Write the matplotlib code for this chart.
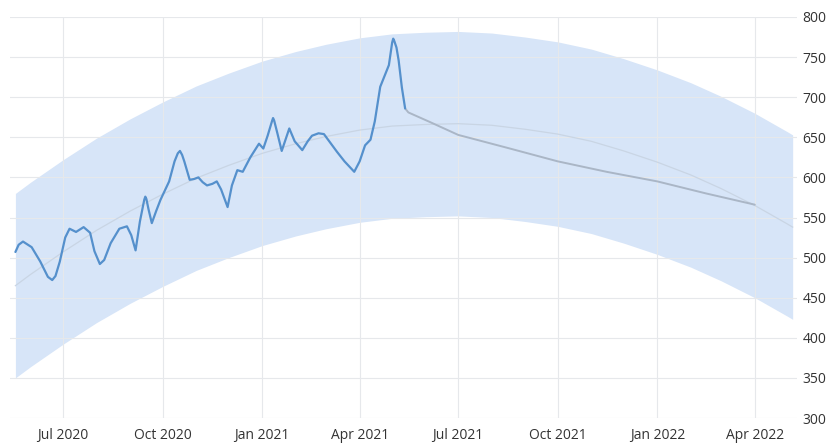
import matplotlib
matplotlib.use("Agg")
import matplotlib.pyplot as plt
import pandas as pd

# ---- data ----
hist_dates = ["2020-05-18", "2020-05-21", "2020-05-25", "2020-06-02", "2020-06-10", "2020-06-17",
              "2020-06-21", "2020-06-24", "2020-06-28", "2020-07-03", "2020-07-07", "2020-07-13",
              "2020-07-20", "2020-07-26", "2020-07-30", "2020-08-04", "2020-08-08", "2020-08-14",
              "2020-08-22", "2020-08-29", "2020-09-02", "2020-09-06", "2020-09-10", "2020-09-14",
              "2020-09-15", "2020-09-16", "2020-09-18", "2020-09-21", "2020-09-25", "2020-09-29",
              "2020-10-07", "2020-10-12", "2020-10-15", "2020-10-17", "2020-10-19", "2020-10-21",
              "2020-10-26", "2020-10-30", "2020-11-03", "2020-11-07",
              "2020-11-11", "2020-11-16", "2020-11-20", "2020-11-24", "2020-11-30", "2020-12-04",
              "2020-12-09", "2020-12-14", "2020-12-21", "2020-12-29", "2021-01-02", "2021-01-06",
              "2021-01-10", "2021-01-11", "2021-01-12", "2021-01-15", "2021-01-19", "2021-01-22",
              "2021-01-26", "2021-01-31",
              "2021-02-07", "2021-02-12", "2021-02-16", "2021-02-22", "2021-02-27", "2021-03-05",
              "2021-03-11", "2021-03-18", "2021-03-27", "2021-04-01", "2021-04-06", "2021-04-11",
              "2021-04-15", "2021-04-20", "2021-04-28", "2021-05-01", "2021-05-02", "2021-05-03",
              "2021-05-05", "2021-05-07", "2021-05-10", "2021-05-13"]
hist_values = [507, 516, 520, 513, 495, 476,
               472, 477, 495, 525, 536, 532,
               538, 531, 508, 492, 497, 518,
               536, 539, 528, 509, 545, 572,
               576, 573, 560, 543, 558, 572,
               595, 620, 630, 633, 628, 620,
               597, 598, 600, 594,
               590, 592, 595, 585, 563, 590,
               609, 607, 625, 642, 636, 652,
               670, 674, 671, 655, 633, 645,
               661, 645,
               634, 645, 652, 655, 654, 643,
               632, 620, 607, 620, 640, 647,
               670, 713, 740, 768, 773, 770,
               762, 746, 712, 686]

fc_dates = ["2021-05-13", "2021-05-16", "2021-06-05", "2021-07-01", "2021-08-15",
            "2021-10-01", "2021-11-15", "2022-01-01", "2022-02-15", "2022-04-01"]
fc_values = [686, 681, 669, 653, 637, 620, 607, 595, 580, 566]

band_dates = ["2020-05-18", "2020-06-01", "2020-07-01", "2020-08-01", "2020-09-01", "2020-10-01",
              "2020-11-01", "2020-12-01", "2021-01-01", "2021-02-01", "2021-03-01", "2021-04-01",
              "2021-05-01", "2021-06-01", "2021-07-01", "2021-08-01", "2021-09-01", "2021-10-01",
              "2021-11-01", "2021-12-01", "2022-01-01", "2022-02-01", "2022-03-01", "2022-04-01",
              "2022-05-01", "2022-05-06"]
band_mid = [465, 479, 507, 534, 558, 579, 599, 615, 630, 642, 651, 659,
            664, 666, 667, 665, 660, 654, 645, 633, 619, 603, 586, 565, 542, 538]
band_upper = [580, 594, 622, 649, 673, 694, 714, 730, 745, 757, 766, 774,
              779, 781, 782, 780, 775, 769, 760, 748, 734, 718, 701, 680, 657, 653]
band_lower = [350, 364, 392, 419, 443, 464, 484, 500, 515, 527, 536, 544,
              549, 551, 552, 550, 545, 539, 530, 518, 504, 488, 471, 450, 427, 423]

x_ticks = ["2020-07-01", "2020-10-01", "2021-01-01", "2021-04-01",
           "2021-07-01", "2021-10-01", "2022-01-01", "2022-04-01"]
x_tick_labels = ["Jul 2020", "Oct 2020", "Jan 2021", "Apr 2021",
                 "Jul 2021", "Oct 2021", "Jan 2022", "Apr 2022"]
y_ticks = [300, 350, 400, 450, 500, 550, 600, 650, 700, 750, 800]

# ---- plot ----
plt.rcParams['font.family'] = ['Open Sans', 'DejaVu Sans']
fig = plt.figure(figsize=(8.28, 4.45), dpi=100)
W, H = 828, 445
ax = fig.add_axes([10 / W, (H - 418) / H, (797 - 10) / W, (418 - 17) / H])

hd = pd.to_datetime(hist_dates)
fd = pd.to_datetime(fc_dates)
bd = pd.to_datetime(band_dates)

ax.fill_between(bd, band_lower, band_upper, color='#d7e5f8', lw=0, zorder=1)
ax.plot(bd, band_mid, color='#c9d5e4', lw=0.9, zorder=2)
ax.plot(fd, fc_values, color='#aab6c6', lw=1.4, zorder=3, solid_capstyle='round')
ax.plot(hd, hist_values, color='#5590cc', lw=1.6, zorder=4,
        solid_joinstyle='round', solid_capstyle='round')

ax.set_xlim(pd.Timestamp("2020-05-13"), pd.Timestamp("2022-05-10"))
ax.set_ylim(300, 800)

ax.set_xticks(pd.to_datetime(x_ticks))
ax.set_xticklabels(x_tick_labels)
ax.set_yticks(y_ticks)
ax.yaxis.tick_right()

ax.grid(True, color='#e6e8eb', lw=0.8)
for line in ax.get_xgridlines() + ax.get_ygridlines():
    line.set_zorder(1.5)

for s in ax.spines.values():
    s.set_visible(False)
ax.tick_params(axis='both', length=0, labelsize=10, labelcolor='#333333')
ax.tick_params(axis='x', pad=7)
ax.tick_params(axis='y', pad=4)

fig.savefig("out.png", dpi=100)
